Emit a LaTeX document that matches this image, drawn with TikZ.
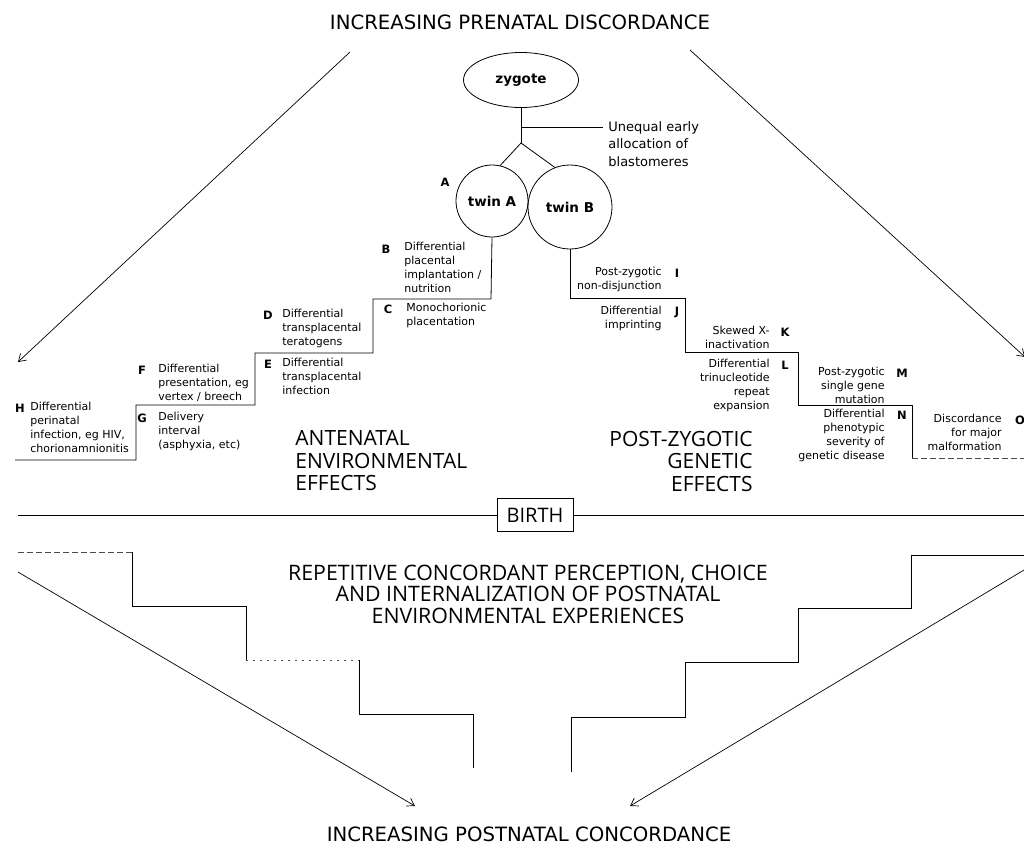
\documentclass[tikz,border=0pt]{standalone}
\usepackage{fontspec}
\setmainfont{DejaVu Sans}
\newfontfamily\bigfont{Open Sans}
\usetikzlibrary{arrows.meta,shapes.geometric}
\tikzset{
  lbl/.style={font=\fontsize{11}{14}\selectfont, inner sep=0pt, align=left, anchor=north west},
  lblr/.style={font=\fontsize{11}{14}\selectfont, inner sep=0pt, align=right, anchor=north east},
  letter/.style={font=\fontsize{11.5}{13}\selectfont\bfseries, inner sep=0pt},
  big/.style={font=\bigfont\fontsize{21}{22.5}\selectfont, inner sep=0pt},
  titletext/.style={font=\fontsize{19.7}{22}\selectfont, inner sep=0pt},
  arr/.style={-{Straight Barb[length=7pt,width=9pt]}, line width=0.7pt},
  stair/.style={line width=0.8pt},
  faint/.style={line width=0.6pt, dashed, dash pattern=on 6pt off 3pt, black!70},
}
\begin{document}
\begin{tikzpicture}[x=1pt,y=-1pt,line width=0.8pt]
\useasboundingbox (0,0) rectangle (1024,844);

% titles
\node[titletext] (toptitle) at (520,22) {INCREASING PRENATAL DISCORDANCE};
\node[titletext] (bottitle) at (529,834) {INCREASING POSTNATAL CONCORDANCE};

% zygote and twins
\node[draw, ellipse, minimum width=115pt, minimum height=55pt, inner sep=0pt, font=\fontsize{13.5}{15}\selectfont\bfseries] (zyg) at (521,80) {zygote};
\node[draw, circle, minimum size=72pt, inner sep=0pt, font=\fontsize{13.5}{15}\selectfont\bfseries] (tA) at (492,201) {twin A};
\node[draw, circle, minimum size=84pt, inner sep=0pt, font=\fontsize{13.5}{15}\selectfont\bfseries] (tB) at (570,207) {twin B};
\coordinate (junc) at (521,143);
\coordinate (tick) at (521,127);
\coordinate (tickend) at (603,127);
\draw (zyg.south) -- (junc);
\draw (junc) -- (tA.77);
\draw (junc) -- (tB.111);
\draw (tick) -- (tickend);
\node[font=\fontsize{13}{17.5}\selectfont, inner sep=0pt, align=left, anchor=north west] (uneq) at (608,121) {Unequal early\\allocation of\\blastomeres};

% upper-left staircase
\coordinate (ulend) at (15,460);
\draw[stair] (tA.south) -- (491,299) -- (373,299) -- (373,353) -- (255,353) -- (255,405) -- (136,405) -- (136,460) -- (ulend);

% upper-right staircase
\coordinate (urend) at (1024,458);
\draw[stair] (tB.south) -- (570,298) -- (685,298) -- (685,352) -- (798,352) -- (798,405) -- (912,405) -- (912,458);
\draw[faint] (912,458) -- (urend);

% left labels
\node[letter] (LA) at (445,182) {A};
\node[letter] (LB) at (386,249) {B};
\node[lbl] (TB) at (404,242) {Differential\\placental\\implantation /\\nutrition};
\node[letter] (LC) at (388,309) {C};
\node[lbl] (TC) at (406,303) {Monochorionic\\placentation};
\node[letter] (LD) at (268,315) {D};
\node[lbl] (TD) at (282,309) {Differential\\transplacental\\teratogens};
\node[letter] (LE) at (268,364) {E};
\node[lbl] (TE) at (282,358) {Differential\\transplacental\\infection};
\node[letter] (LF) at (142,370) {F};
\node[lbl] (TF) at (158,364) {Differential\\presentation, eg\\vertex / breech};
\node[letter] (LG) at (142,418) {G};
\node[lbl] (TG) at (158,412) {Delivery\\interval\\(asphyxia, etc)};
\node[letter] (LH) at (20,408) {H};
\node[lbl] (TH) at (30,402) {Differential\\perinatal\\infection, eg HIV,\\chorionamnionitis};

% right labels
\node[letter] (LI) at (677,273) {I};
\node[lblr] (TI) at (662,267) {Post-zygotic\\non-disjunction};
\node[letter] (LJ) at (677,312) {J};
\node[lblr] (TJ) at (662,306) {Differential\\imprinting};
\node[letter] (LK) at (785,332) {K};
\node[lblr] (TK) at (770,326) {Skewed X-\\inactivation};
\node[letter] (LL) at (785,365) {L};
\node[lblr] (TL) at (770,359) {Differential\\trinucleotide\\repeat\\expansion};
\node[letter] (LM) at (902,373) {M};
\node[lblr] (TM) at (885,367) {Post-zygotic\\single gene\\mutation};
\node[letter] (LN) at (902,415) {N};
\node[lblr] (TN) at (885,409) {Differential\\phenotypic\\severity of\\genetic disease};
\node[letter] (LO) at (1020,420) {O};
\node[lblr] (TO) at (1002,414) {Discordance\\for major\\malformation};

% big headings
\node[big, align=left, anchor=north west] (ant) at (295,430.5) {ANTENATAL\\ENVIRONMENTAL\\EFFECTS};
\node[big, align=right, anchor=north east] (pz) at (753,430.5) {POST-ZYGOTIC\\GENETIC\\EFFECTS};

% birth line
\node[draw, minimum width=76pt, minimum height=33pt, inner sep=0pt, font=\bigfont\fontsize{20}{22}\selectfont] (birth) at (535,515) {BIRTH};
\coordinate (bl) at (18,515);
\coordinate (br) at (1024,515);
\draw (bl) -- (birth.west);
\draw (birth.east) -- (br);

% postnatal text
\node[font=\bigfont\fontsize{21.3}{21.5}\selectfont, inner sep=0pt, align=center, anchor=north] (rep) at (528,564.5) {REPETITIVE CONCORDANT PERCEPTION, CHOICE\\AND INTERNALIZATION OF POSTNATAL\\ENVIRONMENTAL EXPERIENCES};

% lower-left staircase
\coordinate (llstart) at (18,552);
\draw[faint] (llstart) -- (132,552);
\draw[stair] (132,552) -- (132,606) -- (246,606) -- (246,660);
\draw[faint, dash pattern=on 2pt off 5pt] (246,660) -- (359,660);
\draw[stair] (359,660) -- (359,714) -- (473,714) -- (473,768);

% lower-right staircase
\coordinate (lrstart) at (1024,555);
\draw[stair] (lrstart) -- (911,555) -- (911,608) -- (798,608) -- (798,662) -- (685,662) -- (685,717) -- (571,717) -- (571,772);

% diagonal arrows
\coordinate (a1s) at (350,52);
\coordinate (a1e) at (18,362);
\coordinate (a2s) at (690,50);
\coordinate (a2e) at (1025,357);
\coordinate (a3s) at (18,572);
\coordinate (a3e) at (415,806);
\coordinate (a4s) at (1024,570);
\coordinate (a4e) at (630,806);
\draw[arr] (a1s) -- (a1e);
\draw[arr] (a2s) -- (a2e);
\draw[arr] (a3s) -- (a3e);
\draw[arr] (a4s) -- (a4e);
\end{tikzpicture}
\end{document}
